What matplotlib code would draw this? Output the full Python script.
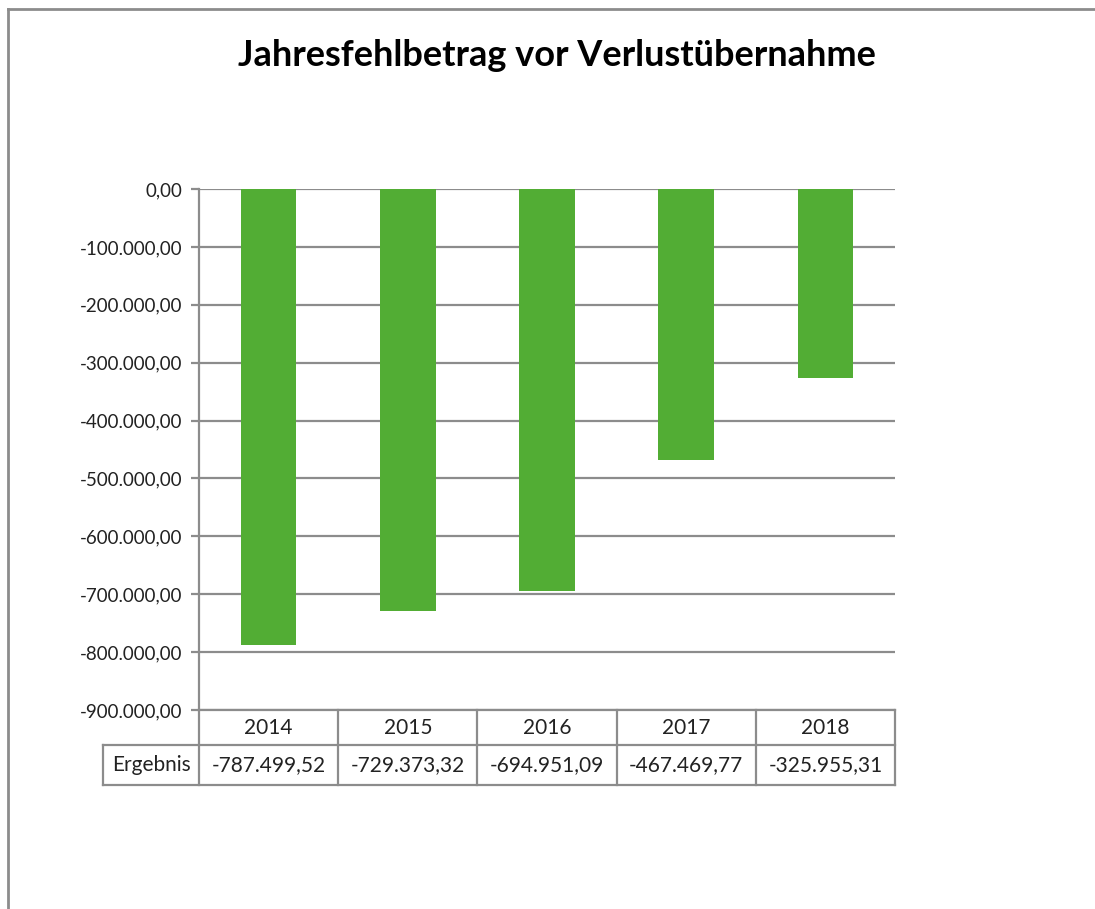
import numpy as np
import matplotlib.pyplot as plt
from matplotlib.lines import Line2D
from matplotlib.transforms import blended_transform_factory

years = ['2014', '2015', '2016', '2017', '2018']
ergebnis = [-787499.52, -729373.32, -694951.09, -467469.77, -325955.31]
yticks = np.arange(0, -1000000, -100000)

plt.rcParams['font.family'] = ['Lato', 'DejaVu Sans']

W, H = 1095, 909
fig = plt.figure(figsize=(W / 100, H / 100), dpi=100)

def de_fmt(v):
    s = f"{v:,.2f}"
    return s.replace(',', 'X').replace('.', ',').replace('X', '.')

grey = '#8c8c8c'
green = '#52ad34'
txt = '#222222'

# outer chart border (only top and left are visible in the crop)
fig.add_artist(Line2D([8 / W, 1.0], [1 - 9 / H, 1 - 9 / H], color=grey, lw=2,
                      transform=fig.transFigure))
fig.add_artist(Line2D([8 / W, 8 / W], [0, 1 - 9 / H], color=grey, lw=2,
                      transform=fig.transFigure))

fig.text(557 / W, 1 - 55 / H, 'Jahresfehlbetrag vor Verlustübernahme',
         ha='center', va='center', fontsize=26, fontweight='bold')

ax = fig.add_axes([199 / W, 1 - 710 / H, 696 / W, 521 / H])
x = np.arange(len(years))
ax.bar(x, ergebnis, width=0.4, color=green, zorder=3)
ax.set_xlim(-0.5, len(years) - 0.5)
ax.set_ylim(-900000, 0)
ax.set_yticks(yticks)
ax.set_yticklabels([de_fmt(v) for v in yticks], fontsize=13.5, color=txt)
ax.set_xticks([])
ax.yaxis.grid(True, color=grey, lw=1.6, zorder=0)
ax.tick_params(axis='y', length=6, width=1.6, color=grey, pad=6)
for s in ['top', 'right', 'bottom']:
    ax.spines[s].set_visible(False)
ax.spines['left'].set_color(grey)
ax.spines['left'].set_linewidth(1.6)

# data table under the chart
tr = blended_transform_factory(ax.transData, ax.transAxes)
ah = 521.0
y0 = 0.0
y1 = -35 / ah
y2 = -75 / ah
xl = -0.5 - 96 / 139.2
xr = len(years) - 0.5
lk = dict(color=grey, lw=1.6, transform=tr, clip_on=False)
ax.add_line(Line2D([-0.5, xr], [y0, y0], **lk))
ax.add_line(Line2D([xl, xr], [y1, y1], **lk))
ax.add_line(Line2D([xl, xr], [y2, y2], **lk))
ax.add_line(Line2D([xl, xl], [y1, y2], **lk))
for b in np.arange(len(years) + 1) - 0.5:
    ax.add_line(Line2D([b, b], [y0, y2], **lk))
for i, (yr, v) in enumerate(zip(years, ergebnis)):
    ax.text(i, (y0 + y1) / 2, yr, transform=tr, ha='center', va='center',
            fontsize=15, color=txt)
    ax.text(i, (y1 + y2) / 2, de_fmt(v), transform=tr, ha='center',
            va='center', fontsize=15, color=txt)
ax.text((xl - 0.5) / 2, (y1 + y2) / 2, 'Ergebnis', transform=tr,
        ha='center', va='center', fontsize=15, color=txt)

fig.savefig('out.png', dpi=100)
